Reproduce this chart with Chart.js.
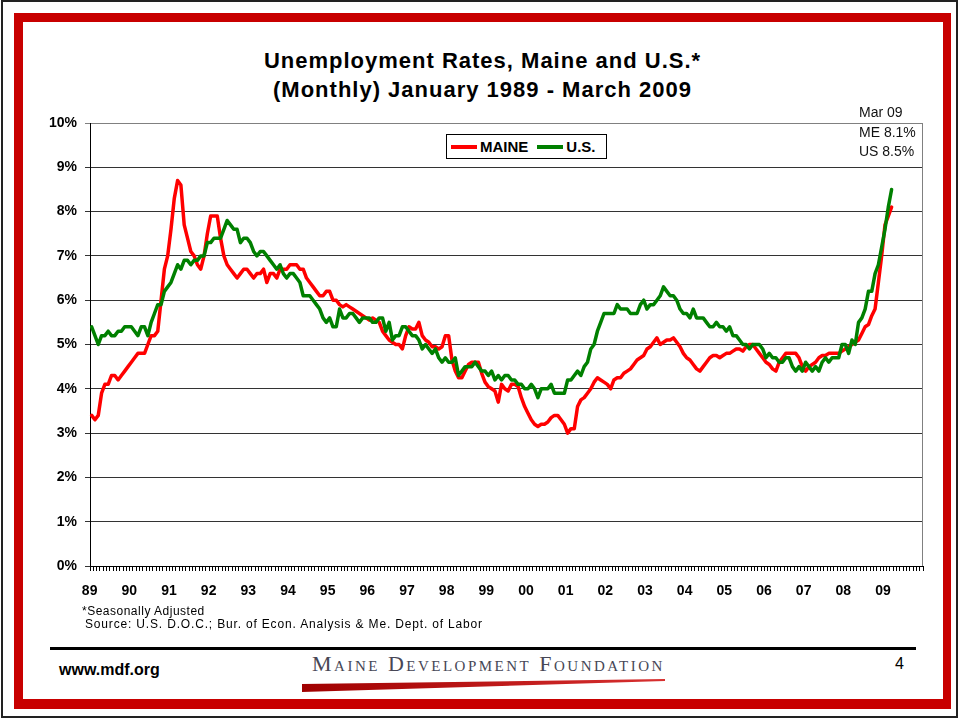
<!DOCTYPE html>
<html lang="en">
<head>
<meta charset="UTF-8">
<title>Unemployment Rates, Maine and U.S.</title>
<script src="https://cdn.jsdelivr.net/npm/chart.js@4"></script>
<style>
  body {
    margin: 0;
    background: #fff;
    font-family: 'Liberation Sans', Arial, sans-serif;
  }
  .page {
    position: relative;
    width: 960px;
    height: 719px;
    overflow: hidden;
    background: #fff;
  }
  .outer {
    position: absolute;
    left: 1px; top: 0;
    width: 953px; height: 714px;
    border: 2px solid #222;
  }
  .frame {
    position: absolute;
    left: 14px; top: 13px;
    width: 920px; height: 677px;
    border: 9px solid #c80000;
    border-right-width: 8px;
    border-bottom-width: 10px;
  }
  .title {
    position: absolute;
    left: 0; top: 46px;
    width: 960px;
    padding-left: 5px;
    box-sizing: border-box;
    text-align: center;
    font-size: 22px;
    font-weight: bold;
    line-height: 29px;
    letter-spacing: 1px;
    color: #000;
  }
  .chart-box {
    position: absolute;
    left: 0; top: 100px;
    width: 960px; height: 520px;
  }
  .legend {
    position: absolute;
    left: 446px; top: 134px;
    width: 155px; height: 23px;
    border: 1px solid #000;
    background: #fff;
    display: flex;
    align-items: center;
    padding-left: 4px;
    box-sizing: content-box;
    font-size: 15px;
    font-weight: bold;
  }
  .legend .key { display: inline-block; width: 26px; height: 4px; margin-right: 3px; }
  .legend .gap { margin-right: 9px; }
  .note {
    position: absolute;
    left: 859px; top: 103px;
    font-size: 14px;
    line-height: 19.5px;
    color: #111;
  }
  .foot {
    position: absolute;
    font-size: 12px;
    line-height: 14px;
    letter-spacing: 0.5px;
    color: #000;
  }
  .rule {
    position: absolute;
    left: 50px; top: 647px;
    width: 866px; height: 3px;
    background: #000;
  }
  .site {
    position: absolute;
    left: 59px; top: 661px;
    font-size: 16px;
    line-height: 18px;
    font-weight: bold;
  }
  .pageno {
    position: absolute;
    left: 895px; top: 655px;
    font-size: 16px;
    line-height: 18px;
  }
  .logo {
    position: absolute;
    left: 312px; top: 652px;
    font-family: 'Liberation Serif', 'Times New Roman', serif;
    font-variant: small-caps;
    font-size: 22px;
    line-height: 24px;
    letter-spacing: 2.5px;
    color: #474756;
    white-space: nowrap;
  }
  .swoosh {
    position: absolute;
    left: 302px; top: 676px;
    width: 365px; height: 17px;
    background: linear-gradient(to right, #a00000, #d83030);
    clip-path: polygon(0 8px, 363px 3px, 363px 5px, 0 16px);
  }
</style>
</head>
<body>
<div class="page">
  <div class="outer"></div>
  <div class="frame"></div>

  <div class="title">Unemployment Rates, Maine and U.S.*<br>(Monthly) January 1989 - March 2009</div>

  <div class="chart-box"><canvas id="chart"></canvas></div>

  <div class="legend">
    <span class="key" style="background:#ff0000"></span><span class="gap">MAINE</span>
    <span class="key" style="background:#008000"></span><span>U.S.</span>
  </div>

  <div class="note">Mar 09<br>ME 8.1%<br>US 8.5%</div>

  <div class="foot" style="left:82px; top:604px;">*Seasonally Adjusted</div>
  <div class="foot" style="left:85px; top:617px; letter-spacing:0.83px;">Source: U.S. D.O.C.; Bur. of Econ. Analysis &amp; Me. Dept. of Labor</div>

  <div class="rule"></div>
  <div class="site">www.mdf.org</div>
  <div class="logo">Maine Development Foundation</div>
  <div class="swoosh"></div>
  <div class="pageno">4</div>
</div>

<script>
  // axis: one category per month, Jan 1989 .. Dec 2009
  const yearLabels = ['89', '90', '91', '92', '93', '94', '95', '96', '97', '98', '99',
                      '00', '01', '02', '03', '04', '05', '06', '07', '08', '09'];
  const monthNames = ['Jan', 'Feb', 'Mar', 'Apr', 'May', 'Jun', 'Jul', 'Aug', 'Sep', 'Oct', 'Nov', 'Dec'];

  // monthly rates (%), Jan 1989 - Mar 2009, one row per year
  const maine = [
    3.4, 3.3, 3.4, 3.9, 4.1, 4.1, 4.3, 4.3, 4.2, 4.3, 4.4, 4.5,
    4.6, 4.7, 4.8, 4.8, 4.8, 5.0, 5.2, 5.2, 5.3, 6.0, 6.7, 7.0,
    7.6, 8.3, 8.7, 8.6, 7.7, 7.4, 7.1, 7.0, 6.8, 6.7, 7.0, 7.5,
    7.9, 7.9, 7.9, 7.4, 7.0, 6.8, 6.7, 6.6, 6.5, 6.6, 6.7, 6.7,
    6.6, 6.5, 6.6, 6.6, 6.7, 6.4, 6.6, 6.6, 6.5, 6.7, 6.7, 6.7,
    6.8, 6.8, 6.8, 6.7, 6.7, 6.5, 6.4, 6.3, 6.2, 6.1, 6.1, 6.2,
    6.2, 6.0, 6.0, 5.9, 5.85, 5.9, 5.85, 5.8, 5.75, 5.7, 5.65, 5.6,
    5.55, 5.6, 5.55, 5.5, 5.3, 5.2, 5.1, 5.05, 5.0, 5.0, 4.9, 5.2,
    5.4, 5.35, 5.35, 5.5, 5.2, 5.1, 5.05, 4.95, 4.95, 4.9, 4.95, 5.2,
    5.2, 4.65, 4.4, 4.25, 4.25, 4.4, 4.55, 4.6, 4.6, 4.6, 4.35, 4.15,
    4.05, 4.0, 3.95, 3.7, 4.1, 4.0, 3.95, 4.1, 4.1, 4.05, 3.8, 3.6,
    3.45, 3.3, 3.2, 3.15, 3.2, 3.2, 3.25, 3.35, 3.4, 3.4, 3.3, 3.2,
    3.0, 3.1, 3.1, 3.6, 3.75, 3.8, 3.9, 4.0, 4.15, 4.25, 4.2, 4.15,
    4.1, 4.0, 4.2, 4.25, 4.25, 4.35, 4.4, 4.45, 4.55, 4.65, 4.7, 4.75,
    4.9, 4.95, 5.05, 5.15, 5.0, 5.05, 5.1, 5.1, 5.15, 5.05, 4.95, 4.8,
    4.7, 4.65, 4.55, 4.45, 4.4, 4.5, 4.6, 4.7, 4.75, 4.75, 4.7, 4.75,
    4.8, 4.8, 4.85, 4.9, 4.9, 4.85, 4.95, 5.0, 5.0, 4.9, 4.8, 4.7,
    4.6, 4.55, 4.45, 4.4, 4.6, 4.7, 4.8, 4.8, 4.8, 4.8, 4.7, 4.5,
    4.4, 4.5, 4.55, 4.6, 4.7, 4.75, 4.75, 4.8, 4.8, 4.8, 4.8, 4.85,
    4.9, 4.95, 5.0, 5.05, 5.1, 5.25, 5.4, 5.45, 5.65, 5.8, 6.4, 7.0,
    7.7, 7.9, 8.1
  ];

  const us = [
    5.4, 5.2, 5.0, 5.2, 5.2, 5.3, 5.2, 5.2, 5.3, 5.3, 5.4, 5.4,
    5.4, 5.3, 5.2, 5.4, 5.4, 5.2, 5.5, 5.7, 5.9, 5.9, 6.2, 6.3,
    6.4, 6.6, 6.8, 6.7, 6.9, 6.9, 6.8, 6.9, 6.9, 7.0, 7.0, 7.3,
    7.3, 7.4, 7.4, 7.4, 7.6, 7.8, 7.7, 7.6, 7.6, 7.3, 7.4, 7.4,
    7.3, 7.1, 7.0, 7.1, 7.1, 7.0, 6.9, 6.8, 6.7, 6.8, 6.6, 6.5,
    6.6, 6.6, 6.5, 6.4, 6.1, 6.1, 6.1, 6.0, 5.9, 5.8, 5.6, 5.5,
    5.6, 5.4, 5.4, 5.8, 5.6, 5.6, 5.7, 5.7, 5.6, 5.5, 5.6, 5.6,
    5.6, 5.5, 5.5, 5.6, 5.6, 5.3, 5.5, 5.1, 5.2, 5.2, 5.4, 5.4,
    5.3, 5.2, 5.2, 5.1, 4.9, 5.0, 4.9, 4.8, 4.9, 4.7, 4.6, 4.7,
    4.6, 4.6, 4.7, 4.3, 4.4, 4.5, 4.5, 4.5, 4.6, 4.5, 4.4, 4.4,
    4.3, 4.4, 4.2, 4.3, 4.2, 4.3, 4.3, 4.2, 4.2, 4.1, 4.1, 4.0,
    4.0, 4.1, 4.0, 3.8, 4.0, 4.0, 4.0, 4.1, 3.9, 3.9, 3.9, 3.9,
    4.2, 4.2, 4.3, 4.4, 4.3, 4.5, 4.6, 4.9, 5.0, 5.3, 5.5, 5.7,
    5.7, 5.7, 5.7, 5.9, 5.8, 5.8, 5.8, 5.7, 5.7, 5.7, 5.9, 6.0,
    5.8, 5.9, 5.9, 6.0, 6.1, 6.3, 6.2, 6.1, 6.1, 6.0, 5.8, 5.7,
    5.7, 5.6, 5.8, 5.6, 5.6, 5.6, 5.5, 5.4, 5.4, 5.5, 5.4, 5.4,
    5.3, 5.4, 5.2, 5.2, 5.1, 5.0, 5.0, 4.9, 5.0, 5.0, 5.0, 4.9,
    4.7, 4.8, 4.7, 4.7, 4.6, 4.6, 4.7, 4.7, 4.5, 4.4, 4.5, 4.4,
    4.6, 4.5, 4.4, 4.5, 4.4, 4.6, 4.7, 4.6, 4.7, 4.7, 4.7, 5.0,
    5.0, 4.8, 5.1, 5.0, 5.5, 5.6, 5.8, 6.2, 6.2, 6.6, 6.8, 7.2,
    7.6, 8.1, 8.5
  ];

  const yTicks = [0, 1, 2, 3, 4, 5, 6, 7, 8, 9, 10];

  const labels = yearLabels.flatMap(y => monthNames.map(m => m + ' ' + y));
  const tickFont = { family: "'Liberation Sans', Arial, sans-serif", size: 14, weight: 'bold' };

  // gray border on the right of the plot area
  const plotFrame = {
    id: 'plotFrame',
    beforeDatasetsDraw(chart) {
      const { ctx, chartArea } = chart;
      ctx.save();
      ctx.strokeStyle = '#808080';
      ctx.lineWidth = 1;
      ctx.beginPath();
      ctx.moveTo(chartArea.right - 0.5, chartArea.top);
      ctx.lineTo(chartArea.right - 0.5, chartArea.bottom);
      ctx.stroke();
      ctx.restore();
    }
  };

  new Chart(document.getElementById('chart'), {
    type: 'line',
    data: {
      labels: labels,
      datasets: [
        { label: 'MAINE', data: maine, borderColor: '#ff0000', order: 1 },
        { label: 'U.S.', data: us, borderColor: '#008000', order: 0 }
      ]
    },
    options: {
      responsive: true,
      maintainAspectRatio: false,
      animation: false,
      layout: { padding: { top: 23, right: 37, bottom: 14, left: 0 } },
      plugins: {
        legend: { display: false },
        tooltip: { enabled: false }
      },
      elements: {
        point: { radius: 0 },
        line: { tension: 0, borderWidth: 3.5, borderJoinStyle: 'round', borderCapStyle: 'round', fill: false }
      },
      scales: {
        x: {
          offset: true,
          grid: { offset: true, drawOnChartArea: false, drawTicks: true, tickLength: 5, color: '#000' },
          border: { color: '#000', width: 1 },
          ticks: {
            autoSkip: false,
            maxRotation: 0,
            minRotation: 0,
            padding: 12,
            labelOffset: -2,
            color: '#000',
            font: tickFont,
            callback: (v, i) => (i % 12 === 0 ? yearLabels[i / 12] : '')
          },
          afterFit: scale => { scale.height = 40; }
        },
        y: {
          min: 0,
          max: 10,
          afterBuildTicks: scale => { scale.ticks = yTicks.map(v => ({ value: v })); },
          ticks: {
            padding: 8,
            color: '#000',
            font: tickFont,
            callback: v => v + '%'
          },
          grid: {
            color: c => (c.tick && c.tick.value === 10 ? '#808080' : '#333'),
            tickLength: 5
          },
          border: { color: '#000', width: 1 },
          afterFit: scale => { scale.width = 90; }
        }
      }
    },
    plugins: [plotFrame]
  });
</script>
</body>
</html>
